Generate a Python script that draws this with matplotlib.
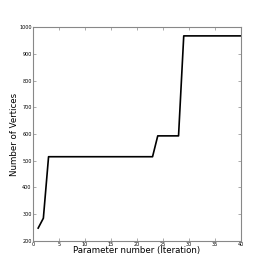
import numpy as np
import matplotlib
matplotlib.use('Agg')
import matplotlib.pyplot as plt

iterations = list(range(1, 41))
vertices = [248, 285] + [515] * 21 + [593] * 5 + [967] * 12

fig = plt.figure(figsize=(2.68, 2.68), dpi=100)
ax = fig.add_axes([0.123, 0.101, 0.776, 0.798])
ax.plot(iterations, vertices, color='black', linewidth=1.2)

ax.set_xlim(0, 40)
ax.set_ylim(200, 1000)
ax.set_xticks(np.arange(0, 41, 5))
ax.set_yticks(np.arange(200, 1001, 100))
ax.tick_params(direction='in', length=2, width=0.5, color='#888888',
               labelsize=3.5, pad=1, top=True, right=True)
for s in ax.spines.values():
    s.set_color('#888888')
    s.set_linewidth(0.8)

ax.set_xlabel('Parameter number (Iteration)', fontsize=6.2, labelpad=-1)
ax.set_ylabel('Number of Vertices', fontsize=6.2, labelpad=0)

fig.savefig('out.png', dpi=100)
